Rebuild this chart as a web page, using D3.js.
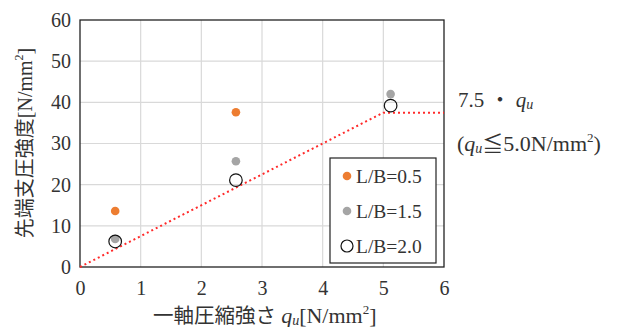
<!DOCTYPE html>
<html>
<head>
<meta charset="utf-8">
<script src="https://cdn.jsdelivr.net/npm/d3@7"></script>
<style>
  body { margin: 0; background: #fff; }
  text { font-family: "Liberation Serif", "Times New Roman", "Noto Sans CJK JP", serif; fill: #333; }
  .cjk { font-family: "Noto Sans CJK JP", sans-serif; }
</style>
</head>
<body>
<svg id="chart" width="620" height="327"></svg>
<script>
// data
var seriesNames = ['L/B=0.5', 'L/B=1.5', 'L/B=2.0']
var qu05 = [0.58, 2.57]
var q05 = [13.6, 37.6]
var qu15 = [0.58, 2.57, 5.12]
var q15 = [6.8, 25.7, 42.0]
var qu20 = [0.58, 2.57, 5.12]
var q20 = [6.2, 21.1, 39.2]
var limitX = [0, 5, 6]
var limitY = [0, 37.5, 37.5]
var xTicks = [0, 1, 2, 3, 4, 5, 6]
var yTicks = [0, 10, 20, 30, 40, 50, 60]

var svg = d3.select('#chart')
var pLeft = 80, pRight = 444, pTop = 20, pBottom = 267

var x = d3.scaleLinear().domain([0, 6]).range([pLeft, pRight])
var y = d3.scaleLinear().domain([0, 60]).range([pBottom, pTop])

// grid
svg.append('g').selectAll('line')
  .data(xTicks.slice(1, -1))
  .join('line')
  .attr('x1', d => x(d)).attr('x2', d => x(d))
  .attr('y1', pTop).attr('y2', pBottom)
  .attr('stroke', '#d9d9d9').attr('stroke-width', 1.2)
svg.append('g').selectAll('line')
  .data(yTicks.slice(1, -1))
  .join('line')
  .attr('x1', pLeft).attr('x2', pRight)
  .attr('y1', d => y(d)).attr('y2', d => y(d))
  .attr('stroke', '#d9d9d9').attr('stroke-width', 1.2)

// axes (labels only, frame drawn separately)
var xAxis = svg.append('g')
  .attr('transform', 'translate(0,' + pBottom + ')')
  .call(d3.axisBottom(x).tickValues(xTicks).tickSize(0).tickPadding(14).tickFormat(d3.format('d')))
xAxis.select('.domain').remove()
xAxis.selectAll('text').style('font-size', '20px')

var yAxis = svg.append('g')
  .attr('transform', 'translate(' + pLeft + ',0)')
  .call(d3.axisLeft(y).tickValues(yTicks).tickSize(0).tickPadding(9).tickFormat(d3.format('d')))
yAxis.select('.domain').remove()
yAxis.selectAll('text').style('font-size', '20px')

svg.append('rect')
  .attr('x', pLeft).attr('y', pTop)
  .attr('width', pRight - pLeft).attr('height', pBottom - pTop)
  .attr('fill', 'none').attr('stroke', '#222').attr('stroke-width', 1.3)

// 7.5 qu limit line
var line = d3.line().x(d => x(d[0])).y(d => y(d[1]))
svg.append('path')
  .datum(d3.zip(limitX, limitY))
  .attr('d', line)
  .attr('fill', 'none')
  .attr('stroke', '#ff2a2a')
  .attr('stroke-width', 2)
  .attr('stroke-dasharray', '2,3')

// points
svg.append('g').selectAll('circle')
  .data(d3.zip(qu05, q05))
  .join('circle')
  .attr('cx', d => x(d[0])).attr('cy', d => y(d[1]))
  .attr('r', 4.3).attr('fill', '#ed7d31')
svg.append('g').selectAll('circle')
  .data(d3.zip(qu15, q15))
  .join('circle')
  .attr('cx', d => x(d[0])).attr('cy', d => y(d[1]))
  .attr('r', 4.3).attr('fill', '#a5a5a5')
svg.append('g').selectAll('circle')
  .data(d3.zip(qu20, q20))
  .join('circle')
  .attr('cx', d => x(d[0])).attr('cy', d => y(d[1]))
  .attr('r', 6.3).attr('fill', 'none').attr('stroke', '#111').attr('stroke-width', 1.2)

// legend
var lg = svg.append('g')
lg.append('rect')
  .attr('x', 330).attr('y', 158).attr('width', 106).attr('height', 105)
  .attr('fill', '#fff').attr('stroke', '#222').attr('stroke-width', 1.2)
var legY = [176, 211, 246]
seriesNames.forEach(function (name, i) {
  var c = lg.append('circle').attr('cx', 347).attr('cy', legY[i])
  if (i === 0) c.attr('r', 4.3).attr('fill', '#ed7d31')
  else if (i === 1) c.attr('r', 4.3).attr('fill', '#a5a5a5')
  else c.attr('r', 6).attr('fill', 'none').attr('stroke', '#111').attr('stroke-width', 1.2)
  lg.append('text').attr('x', 356).attr('y', legY[i] + 7)
    .style('font-size', '19.5px').text(name)
})

// annotation
var a1 = svg.append('text').attr('x', 458).attr('y', 107).style('font-size', '21px')
a1.append('tspan').text('7.5 ・ ')
a1.append('tspan').style('font-style', 'italic').text('q')
a1.append('tspan').style('font-style', 'italic').style('font-size', '14px').attr('dy', 2).text('u')

var a2 = svg.append('text').attr('x', 457).attr('y', 151).style('font-size', '22px')
a2.append('tspan').text('(')
a2.append('tspan').style('font-style', 'italic').text('q')
a2.append('tspan').style('font-style', 'italic').style('font-size', '14px').attr('dy', 2).text('u')
a2.append('tspan').attr('class', 'cjk').style('font-size', '21px').attr('dy', -2).text('≦')
a2.append('tspan').text('5.0N/mm')
a2.append('tspan').style('font-size', '13px').attr('dy', -9).text('2')
a2.append('tspan').attr('dy', 9).text(')')

// axis titles
var xt = svg.append('text').attr('x', 153).attr('y', 323).style('font-size', '22px')
xt.append('tspan').style('font-size', '20.5px').text('一軸圧縮強さ\u00a0')
xt.append('tspan').style('font-style', 'italic').text('q')
xt.append('tspan').style('font-style', 'italic').style('font-size', '14px').attr('dy', 2).text('u')
xt.append('tspan').attr('dy', -2).text('[N/mm')
xt.append('tspan').style('font-size', '13px').attr('dy', -9).text('2')
xt.append('tspan').attr('dy', 9).text(']')

var yt = svg.append('text')
  .attr('transform', 'translate(32,143) rotate(-90)')
  .attr('text-anchor', 'middle')
  .style('font-size', '20px')
yt.append('tspan').text('先端支圧強度[N/mm')
yt.append('tspan').style('font-size', '12px').attr('dy', -9).text('2')
yt.append('tspan').attr('dy', 9).text(']')
</script>
</body>
</html>
